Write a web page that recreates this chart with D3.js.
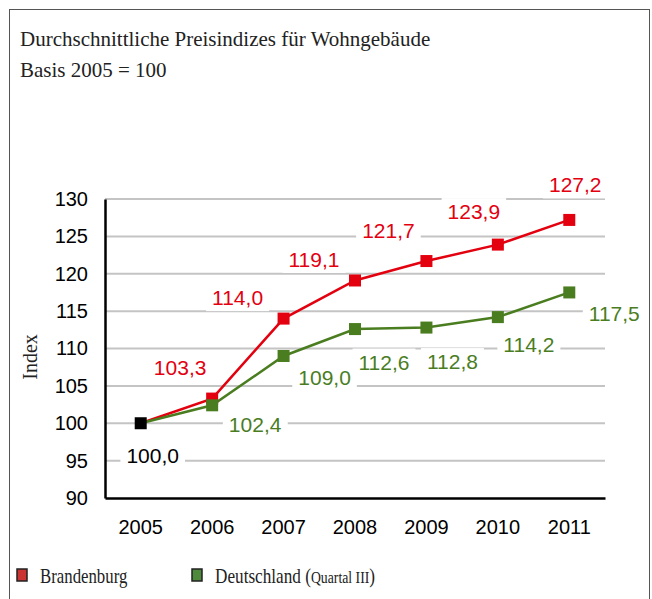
<!DOCTYPE html>
<html>
<head>
<meta charset="utf-8">
<script src="https://cdn.jsdelivr.net/npm/d3@7"></script>
<style>
  body { margin: 0; background: #fff; }
  .tick-label { font-family: Arial, "Liberation Sans", sans-serif; font-size: 20px; fill: #000; }
  .val-label { font-family: Arial, "Liberation Sans", sans-serif; font-size: 21px; }
  .serif { font-family: "Times New Roman", "Liberation Serif", serif; fill: #222; }
</style>
</head>
<body>
<script>
const years = ['2005', '2006', '2007', '2008', '2009', '2010', '2011']
const brandenburg = [100.0, 103.3, 114.0, 119.1, 121.7, 123.9, 127.2]
const deutschland = [100.0, 102.4, 109.0, 112.6, 112.8, 114.2, 117.5]
const yTicks = [90, 95, 100, 105, 110, 115, 120, 125, 130]

// label placement relative to its point (dx, dy)
const redOffsets = [null, [-32, -31], [-46, -21], [-41, -21], [-38, -31], [-24, -33], [6, -35]]
const greenOffsets = [[12, 32], [43, 19], [41, 22], [29, 33], [26, 34], [31, 27], [45, 21]]

const red = '#e3000f'
const green = '#4a7d1f'

const width = 652
const height = 599
const margin = {top: 199, bottom: 101, left: 105, right: 47}

const svg = d3.select('body').append('svg')
  .attr('width', width)
  .attr('height', height)

svg.append('rect')
  .attr('x', 9.5).attr('y', 9.5)
  .attr('width', 640).attr('height', 620)
  .attr('fill', 'none')
  .attr('stroke', '#555')

svg.append('text').attr('class', 'serif')
  .attr('x', 20).attr('y', 46)
  .style('font-size', '21px')
  .text('Durchschnittliche Preisindizes für Wohngebäude')

svg.append('text').attr('class', 'serif')
  .attr('x', 20).attr('y', 77)
  .style('font-size', '21px')
  .text('Basis 2005 = 100')

const xScale = d3.scaleBand()
  .domain(years)
  .range([margin.left, width - margin.right])

const yScale = d3.scaleLinear()
  .domain([90, 130])
  .range([height - margin.bottom, margin.top])

const xc = d => xScale(d) + xScale.bandwidth() / 2

// gridlines
svg.append('g').selectAll('line')
  .data(yTicks.filter(t => t > 90))
  .enter()
  .append('line')
  .attr('x1', margin.left)
  .attr('x2', width - margin.right)
  .attr('y1', d => yScale(d))
  .attr('y2', d => yScale(d))
  .attr('stroke', '#c4c4c4')
  .attr('stroke-width', 2)

// axes
const yAxis = svg.append('g')
  .attr('transform', `translate(${margin.left},0)`)
  .call(d3.axisLeft(yScale).tickValues(yTicks).tickSize(0).tickPadding(17))
yAxis.select('.domain').attr('stroke', '#000').attr('stroke-width', 2.5)
yAxis.selectAll('text').attr('class', 'tick-label').attr('font-size', null).attr('font-family', null)

const xAxis = svg.append('g')
  .attr('transform', `translate(0,${height - margin.bottom})`)
  .call(d3.axisBottom(xScale).tickSize(0).tickPadding(22))
xAxis.select('.domain').attr('stroke', '#000').attr('stroke-width', 2.5)
xAxis.selectAll('text').attr('class', 'tick-label').attr('font-size', null).attr('font-family', null)

svg.append('text').attr('class', 'serif')
  .attr('transform', 'translate(37,357) rotate(-90)')
  .attr('text-anchor', 'middle')
  .style('font-size', '20px')
  .text('Index')

// labels with white background
function addLabels(values, offsets, color) {
  const g = svg.append('g')
  values.forEach((v, i) => {
    const off = offsets[i]
    if (!off) return
    const lg = g.append('g')
    const t = lg.append('text')
      .attr('class', 'val-label')
      .attr('x', xc(years[i]) + off[0])
      .attr('y', yScale(v) + off[1])
      .attr('text-anchor', 'middle')
      .attr('dominant-baseline', 'central')
      .style('fill', i === 0 ? '#000' : color)
      .text(v.toFixed(1).replace('.', ','))
    const b = t.node().getBBox()
    lg.insert('rect', 'text')
      .attr('x', b.x - 6).attr('y', b.y - 2)
      .attr('width', b.width + 12).attr('height', b.height + 4)
      .attr('fill', '#fff')
  })
}
addLabels(brandenburg, redOffsets, red)
addLabels(deutschland, greenOffsets, green)

const line = d3.line()
  .x((d, i) => xc(years[i]))
  .y(d => yScale(d))

svg.append('path')
  .datum(brandenburg)
  .attr('d', line)
  .attr('fill', 'none')
  .attr('stroke', red)
  .attr('stroke-width', 2.5)

svg.append('path')
  .datum(deutschland)
  .attr('d', line)
  .attr('fill', 'none')
  .attr('stroke', green)
  .attr('stroke-width', 2.5)

const ms = 12
svg.append('g').selectAll('rect')
  .data(brandenburg.slice(1))
  .enter()
  .append('rect')
  .attr('x', (d, i) => xc(years[i + 1]) - ms / 2)
  .attr('y', d => yScale(d) - ms / 2)
  .attr('width', ms).attr('height', ms)
  .attr('fill', red)

svg.append('g').selectAll('rect')
  .data(deutschland.slice(1))
  .enter()
  .append('rect')
  .attr('x', (d, i) => xc(years[i + 1]) - ms / 2)
  .attr('y', d => yScale(d) - ms / 2)
  .attr('width', ms).attr('height', ms)
  .attr('fill', green)

svg.append('rect')
  .attr('x', xc(years[0]) - ms / 2)
  .attr('y', yScale(deutschland[0]) - ms / 2)
  .attr('width', ms).attr('height', ms)
  .attr('fill', '#000')

// legend (narrow serif look via horizontal scale)
const legend = svg.append('g')
legend.append('rect')
  .attr('x', 17).attr('y', 569).attr('width', 10).attr('height', 12)
  .attr('fill', '#cc3333').attr('stroke', '#222').attr('stroke-width', 1.5)
legend.append('text').attr('class', 'serif')
  .attr('transform', 'translate(40,583) scale(0.84,1)')
  .style('font-size', '20px')
  .text('Brandenburg')
legend.append('rect')
  .attr('x', 192).attr('y', 569).attr('width', 10).attr('height', 12)
  .attr('fill', '#4f8a3c').attr('stroke', '#222').attr('stroke-width', 1.5)
const dt = legend.append('text').attr('class', 'serif')
  .attr('transform', 'translate(215,583) scale(0.86,1)')
  .style('font-size', '20px')
dt.append('tspan').text('Deutschland (')
dt.append('tspan').style('font-size', '16px').text('Quartal III')
dt.append('tspan').text(')')
</script>
</body>
</html>
